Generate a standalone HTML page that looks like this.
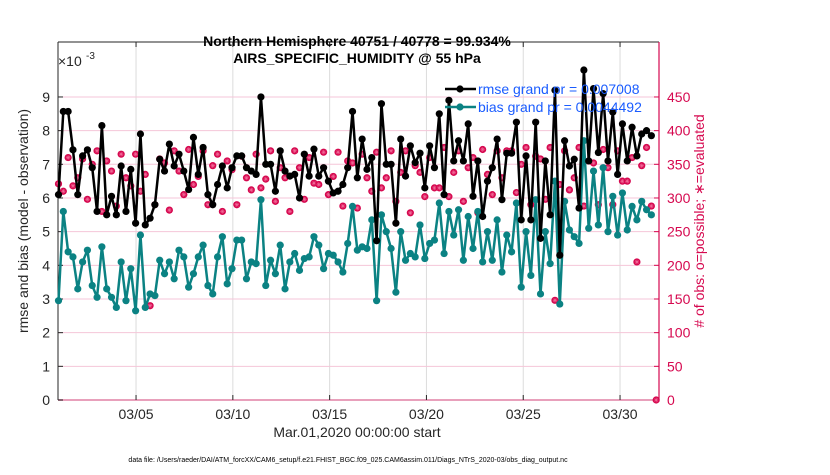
<!DOCTYPE html>
<html><head><meta charset="utf-8"><style>
body{margin:0;background:#fff;width:830px;height:470px;overflow:hidden;font-family:"Liberation Sans",sans-serif}
</style></head><body>
<svg id="chart" width="830" height="470" xmlns="http://www.w3.org/2000/svg" font-family="Liberation Sans, sans-serif"></svg>
<script>
const rmse=[6.1,8.57,8.57,7.43,6.1,7.25,7.43,6.9,5.6,8.15,5.5,6.05,5.5,6.95,5.6,6.85,5.25,7.9,5.2,5.4,5.8,7.15,6.8,7.6,6.95,7.3,6.8,6.25,7.8,6.7,7.5,6.1,5.8,6.4,6.95,6.3,6.9,7.25,7.25,6.9,6.8,6.7,9.0,
7.0,7.0,6.2,7.4,6.8,6.65,6.7,6.0,7.3,6.65,7.45,6.65,6.9,6.5,6.15,6.2,6.4,6.9,8.57,6.6,7.75,6.85,7.2,4.73,8.8,7.0,7.0,5.25,7.75,6.65,7.55,7.05,7.33,6.3,7.55,6.9,8.5,6.1,8.9,7.1,7.7,
7.1,8.2,6.05,7.1,5.45,6.5,6.9,7.75,5.95,7.33,7.33,8.25,5.35,7.25,5.35,8.25,4.8,7.1,5.5,9.2,4.3,7.7,6.95,7.15,5.7,9.8,7.1,9.25,7.35,9.1,7.1,8.55,6.7,8.2,7.1,8.1,7.25,7.9,8.0,7.85];
const bias=[2.95,5.6,4.4,4.25,3.3,4.1,4.45,3.4,3.05,4.55,3.3,3.05,2.75,4.1,2.95,3.9,2.65,4.9,2.75,3.15,3.1,4.15,3.75,4.1,3.6,4.45,4.25,3.35,3.75,4.25,4.6,3.4,3.15,4.25,4.85,3.45,3.9,4.75,4.75,3.6,4.1,4.05,5.95,
3.4,4.15,3.75,4.6,3.3,4.1,4.35,3.85,4.2,4.25,4.85,4.6,3.9,4.35,4.3,4.1,3.8,4.65,5.75,4.45,4.55,4.5,5.35,2.95,5.5,5.0,4.5,3.2,5.0,4.15,4.35,4.25,5.2,4.2,4.65,4.75,5.85,4.35,5.6,4.9,5.65,
4.15,5.45,4.5,5.6,4.1,5.0,4.15,5.35,3.8,4.9,4.4,5.85,3.35,5.0,3.7,5.95,3.15,5.0,4.05,6.5,2.85,5.9,5.05,4.85,4.65,7.7,5.1,6.8,5.2,6.9,5.0,6.05,4.9,6.15,5.05,5.75,5.35,5.9,5.65,5.5];
const nobs=[321,310,360,318,330,358,298,350,370,280,355,340,288,365,330,318,365,310,335,140,290,358,352,282,370,340,305,372,320,332,370,290,348,365,280,355,342,290,362,330,312,365,315,
328,370,295,345,330,280,370,345,298,360,322,320,368,305,332,368,288,355,352,285,365,330,310,368,315,330,370,295,338,370,278,348,338,302,360,315,315,375,302,338,370,
295,345,360,278,372,335,305,370,330,370,370,308,350,375,290,362,358,298,375,148,320,370,312,330,375,288,355,352,290,372,345,290,370,325,325,360,205,348,375,288,0];
const leftTicks=[0,1,2,3,4,5,6,7,8,9];
const rightTicks=[0,50,100,150,200,250,300,350,400,450];
const dateTicks=[5,10,15,20,25,30];
const dateLabels=["03/05","03/10","03/15","03/20","03/25","03/30"];

const svg=document.getElementById('chart');
const NS='http://www.w3.org/2000/svg';
const L=58,R=659,T=42,B=400;
const pxPerUnit=33.67;
const yL=v=>B-v*pxPerUnit;
const yR=v=>B-v/50*pxPerUnit;
const xI=i=>58.5+i*4.82;
const xDay=d=>58.6+(d-1)*19.36;
function mk(tag,attrs,parent){const e=document.createElementNS(NS,tag);for(const k in attrs)e.setAttribute(k,attrs[k]);(parent||svg).appendChild(e);return e;}
function txt(x,y,s,attrs,parent){const e=mk('text',Object.assign({x:x,y:y},attrs),parent);e.textContent=s;return e;}

const grid=mk('g',{});


dateTicks.forEach(d=>{mk('line',{x1:xDay(d),x2:xDay(d),y1:T,y2:B,stroke:'#dcdcdc','stroke-width':1},grid);});
leftTicks.forEach(v=>{if(v>0)mk('line',{x1:L,x2:R,y1:yL(v),y2:yL(v),stroke:'#f5c6d8','stroke-width':1},grid);});
mk('line',{x1:L,x2:R,y1:B,y2:B,stroke:'#e8a0bb','stroke-width':2},grid);

const ax=mk('g',{});


mk('line',{x1:L,x2:L,y1:T,y2:B,stroke:'#262626'},ax);
mk('line',{x1:L,x2:R,y1:T,y2:T,stroke:'#262626'},ax);
mk('line',{x1:R,x2:R,y1:T,y2:B,stroke:'#d6084f','stroke-width':1.2},ax);
leftTicks.forEach(v=>{
  mk('line',{x1:L,x2:L+5,y1:yL(v),y2:yL(v),stroke:'#262626'},ax);
  const t=txt(L-8,yL(v)+5,String(v),{'font-size':14,'text-anchor':'end',fill:'#262626'},ax);
  
  
});
rightTicks.forEach(v=>{
  mk('line',{x1:R-5,x2:R,y1:yR(v),y2:yR(v),stroke:'#d6084f'},ax);
  const t=txt(R+8,yR(v)+5,String(v),{'font-size':14,fill:'#d6084f'},ax);
  
  
});
dateTicks.forEach((d,k)=>{
  mk('line',{x1:xDay(d),x2:xDay(d),y1:B,y2:B-5,stroke:'#262626'},ax);
  mk('line',{x1:xDay(d),x2:xDay(d),y1:T,y2:T+5,stroke:'#262626'},ax);
  const t=txt(xDay(d),B+19,dateLabels[k],{'font-size':14,'text-anchor':'middle',fill:'#262626'},ax);
  
  
});

function series(vals,color,name){
  const g=mk('g',{});
  
  
  mk('polyline',{points:vals.map((v,i)=>xI(i)+','+yL(v)).join(' '),fill:'none',stroke:color,'stroke-width':2.5,'stroke-linejoin':'round'},g);
  vals.forEach((v,i)=>{mk('circle',{cx:xI(i),cy:yL(v),r:3.6,fill:color},g);});
  return g;
}
const og=mk('g',{});


nobs.forEach((v,i)=>{
  const x=xI(i),y=yR(v);
  mk('circle',{cx:x,cy:y,r:3.6,fill:'#d6084f'},og);
  mk('path',{d:`M${x-2.2} ${y}H${x+2.2}M${x} ${y-2.2}V${y+2.2}M${x-1.6} ${y-1.6}L${x+1.6} ${y+1.6}M${x-1.6} ${y+1.6}L${x+1.6} ${y-1.6}`,stroke:'#f06a98','stroke-width':0.6},og);
});
series(bias,'#0b8283','bias-series');
series(rmse,'#000','rmse-series');

const t1=txt(357,46,'Northern Hemisphere 40751 / 40778 = 99.934%',{'font-size':14,'font-weight':'bold','text-anchor':'middle',fill:'#000'});


const t2=txt(357,63,'AIRS_SPECIFIC_HUMIDITY @ 55 hPa',{'font-size':14,'font-weight':'bold','text-anchor':'middle',fill:'#000'});


const ex=txt(58,66,'×10',{'font-size':14,fill:'#262626'});


const ex2=txt(86,59,'-3',{'font-size':10,fill:'#262626'});


const yl=txt(0,0,'rmse and bias (model - observation)',{'font-size':14,'text-anchor':'middle',fill:'#262626',transform:'translate(28,221) rotate(-90)'});


const yr=txt(0,0,'# of obs: o=possible; \u2217=evaluated',{'font-size':14,'text-anchor':'middle',fill:'#d6084f',transform:'translate(704,221) rotate(-90)'});


const xl=txt(357,437,'Mar.01,2020 00:00:00 start',{'font-size':14,'text-anchor':'middle',fill:'#262626'});


const ft=txt(348,462,'data file: /Users/raeder/DAI/ATM_forcXX/CAM6_setup/f.e21.FHIST_BGC.f09_025.CAM6assim.011/Diags_NTrS_2020-03/obs_diag_output.nc',{'font-size':7,'text-anchor':'middle',fill:'#000'});



const lg=mk('g',{});


const le1=mk('g',{},lg);


mk('line',{x1:445,x2:476,y1:89,y2:89,stroke:'#000','stroke-width':2.5},le1);
mk('circle',{cx:460,cy:89,r:3.6,fill:'#000'},le1);
txt(478,94,'rmse grand pr = 0.007008',{'font-size':14,fill:'#1a5cff'},le1);
const le2=mk('g',{},lg);


mk('line',{x1:445,x2:476,y1:107,y2:107,stroke:'#0b8283','stroke-width':2.5},le2);
mk('circle',{cx:460,cy:107,r:3.6,fill:'#0b8283'},le2);
txt(478,112,'bias grand pr = 0.0044492',{'font-size':14,fill:'#1a5cff'},le2);
</script>
</body></html>
